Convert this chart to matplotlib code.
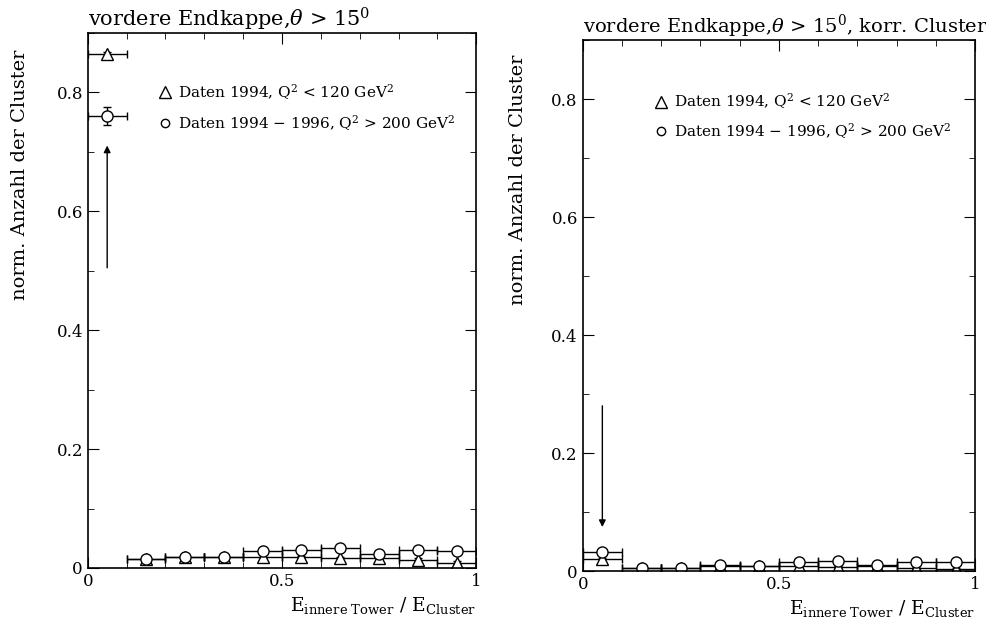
import numpy as np
import matplotlib.pyplot as plt
from matplotlib.ticker import MultipleLocator

plt.rcParams['font.family'] = 'DejaVu Serif'
plt.rcParams['mathtext.fontset'] = 'dejavuserif'

# bin centres, x from 0 to 1 in steps of 0.1
bin_centers = [0.05, 0.15, 0.25, 0.35, 0.45, 0.55, 0.65, 0.75, 0.85, 0.95]
bin_halfwidth = 0.05

# left panel: uncorrected clusters
left_tri = [0.864, 0.015, 0.018, 0.018, 0.019, 0.018, 0.016, 0.017, 0.013, 0.009]
left_tri_err = [0.004, 0.002, 0.002, 0.002, 0.002, 0.002, 0.003, 0.002, 0.003, 0.003]
left_circ = [0.760, 0.015, 0.019, 0.019, 0.029, 0.030, 0.034, 0.024, 0.031, 0.028]
left_circ_err = [0.015, 0.002, 0.002, 0.002, 0.003, 0.003, 0.003, 0.003, 0.003, 0.003]

# right panel: corrected clusters
right_tri = [0.020, 0.006, 0.006, 0.008, 0.008, 0.009, 0.007, 0.008, 0.005, 0.004]
right_tri_err = [0.003, 0.002, 0.002, 0.002, 0.002, 0.002, 0.002, 0.002, 0.002, 0.002]
right_circ = [0.033, 0.006, 0.006, 0.010, 0.009, 0.016, 0.018, 0.010, 0.015, 0.015]
right_circ_err = [0.003, 0.002, 0.002, 0.002, 0.002, 0.002, 0.002, 0.002, 0.002, 0.002]

label_tri = r'Daten 1994, Q$^2$ < 120 GeV$^2$'
label_circ = r'Daten 1994 $-$ 1996, Q$^2$ > 200 GeV$^2$'

fig = plt.figure(figsize=(9.86, 6.29), dpi=100)
ax1 = fig.add_axes([0.089, 0.097, 0.394, 0.851])
ax2 = fig.add_axes([0.591, 0.092, 0.398, 0.844])


def draw_panel(ax, tri, tri_err, circ, circ_err, ylab_x, ylab_y):
    for y, yerr, m in [(tri, tri_err, '^'), (circ, circ_err, 'o')]:
        ax.errorbar(bin_centers, y, xerr=bin_halfwidth, yerr=yerr, fmt=m, mfc='white',
                    mec='black', ecolor='black', color='black', ms=8, mew=1.0,
                    elinewidth=1.0, capsize=3, capthick=1.0)
    ax.set_xlim(0, 1)
    ax.set_ylim(0, 0.9)
    ax.xaxis.set_minor_locator(MultipleLocator(0.1))
    ax.yaxis.set_minor_locator(MultipleLocator(0.1))
    ax.tick_params(which='both', direction='in', top=True, right=True, labelsize=12)
    ax.tick_params(which='major', length=8)
    ax.tick_params(which='minor', length=4)
    ax.set_xticks([0, 0.5, 1])
    ax.set_xticklabels(['0', '0.5', '1'])
    ax.set_yticks([0, 0.2, 0.4, 0.6, 0.8])
    ax.set_yticklabels(['0', '0.2', '0.4', '0.6', '0.8'])
    for s in ax.spines.values():
        s.set_linewidth(1.2)
    ax.set_xlabel(r'E$_{\mathrm{innere\ Tower}}$ / E$_{\mathrm{Cluster}}$', fontsize=13.5)
    ax.xaxis.set_label_coords(1.0, -0.05)
    ax.xaxis.label.set_ha('right')
    ax.xaxis.label.set_va('top')
    ax.set_ylabel('norm. Anzahl der Cluster', fontsize=14)
    ax.yaxis.set_label_coords(ylab_x, ylab_y)
    ax.yaxis.label.set_ha('right')
    ax.yaxis.label.set_va('center')


draw_panel(ax1, left_tri, left_tri_err, left_circ, left_circ_err, -0.175, 0.968)
draw_panel(ax2, right_tri, right_tri_err, right_circ, right_circ_err, -0.166, 0.972)

ax1.set_title(r'vordere Endkappe,$\theta$ > 15$^0$', loc='left', fontsize=15, pad=3)
ax2.set_title(r'vordere Endkappe,$\theta$ > 15$^0$, korr. Cluster', loc='left', fontsize=14, pad=2)

# legends
for ax, y1, y2 in [(ax1, 0.80, 0.748), (ax2, 0.796, 0.746)]:
    ax.plot([0.2], [y1], marker='^', mfc='white', mec='black', ms=8, ls='none')
    ax.plot([0.2], [y2], marker='o', mfc='white', mec='black', ms=6, ls='none')
    ax.text(0.232, y1, label_tri, fontsize=11, va='center')
    ax.text(0.232, y2, label_circ, fontsize=11, va='center')

# arrows marking the first bin
ax1.annotate('', xy=(0.05, 0.715), xytext=(0.05, 0.50),
             arrowprops=dict(arrowstyle='-|>', color='black', lw=1.0))
ax2.annotate('', xy=(0.05, 0.07), xytext=(0.05, 0.285),
             arrowprops=dict(arrowstyle='-|>', color='black', lw=1.0))

fig.savefig('out.png', dpi=100)
